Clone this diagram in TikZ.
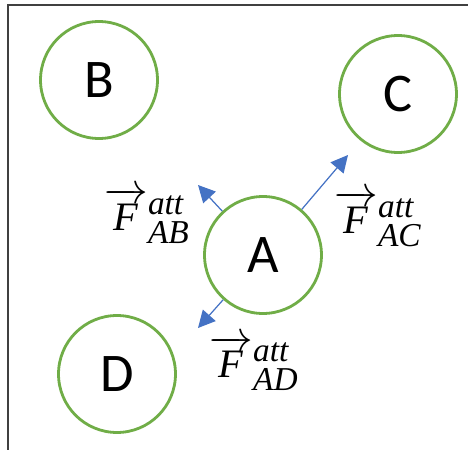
\documentclass[tikz,border=0pt]{standalone}
\usepackage{amsmath}
\usepackage{fontspec}
\setsansfont{Carlito}
\newfontfamily\lserif{Liberation Serif}
\usetikzlibrary{arrows.meta}

\definecolor{agentgreen}{RGB}{112,173,71}
\definecolor{forceblue}{RGB}{68,114,196}

\DeclareMathSizes{23}{23}{19}{15}
\newcommand{\tmi}[1]{\text{\lserif\itshape #1}}
\newcommand{\fatt}[1]{$\overrightarrow{\tmi{F}}^{\tmi{att}}_{\tmi{#1}}$}

\begin{document}
\begin{tikzpicture}[x=0.02cm, y=-0.02cm,
  agent/.style={circle, draw=agentgreen, line width=1.6pt, minimum size=2.34cm, inner sep=0pt,
    font=\sffamily\fontsize{31}{31}\selectfont},
  force/.style={draw=forceblue, line width=0.7pt, -{Triangle[length=3.4mm, width=3.4mm, fill=forceblue]}},
  flabel/.style={font=\fontsize{23}{27}\selectfont, inner sep=0pt}]

\useasboundingbox (0,0) rectangle (468,450);

% Frame
\draw[line width=0.6pt, black!75] (468,5) -- (8,5) -- (8,450);

% Agents
\node[agent] (A) at (263,255) {A};
\node[agent] (B) at (99,80) {B};
\node[agent] (C) at (398,94) {C};
\node[agent] (D) at (117,374) {D};

% Arrow tips of the attractive forces
\coordinate (tAB) at (198,185);
\coordinate (tAC) at (348,155);
\coordinate (tAD) at (198,328);

% Attractive forces on A
\draw[force] (A) -- (tAB);
\draw[force] (A) -- (tAC);
\draw[force] (A) -- (tAD);

% Labels
\node[flabel] (lAB) at (147,216) {\fatt{AB}};
\node[flabel] (lAC) at (378,219) {\fatt{AC}};
\node[flabel] (lAD) at (254,363) {\fatt{AD}};

\end{tikzpicture}
\end{document}
